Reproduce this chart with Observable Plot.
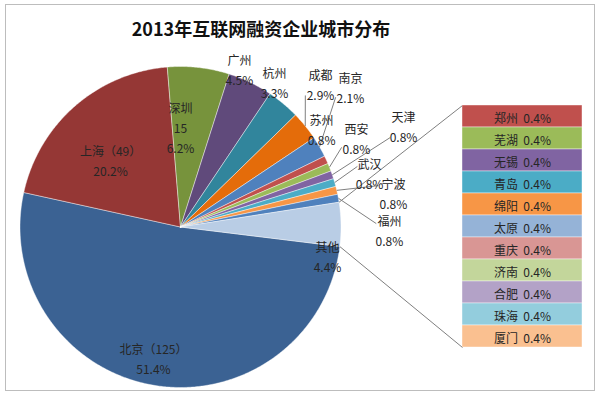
<!DOCTYPE html>
<html><head><meta charset="utf-8">
<script src="https://cdn.jsdelivr.net/npm/d3@7"></script>
<script src="https://cdn.jsdelivr.net/npm/@observablehq/plot@0.6"></script>
<style>
html,body{margin:0;padding:0;background:#fff;}
#wrap{position:relative;width:600px;height:395px;overflow:hidden;font-family:"Noto Sans CJK SC",sans-serif;}
#frame{position:absolute;left:5px;top:4px;width:590px;height:387px;border:1.5px solid #bdbdbd;box-sizing:border-box;}
#title{position:absolute;left:0;width:522px;top:17px;text-align:center;font-weight:bold;font-size:18px;line-height:22px;color:#111;}
#pie,#bar{position:absolute;}
#pie{left:0;top:0;}
</style></head><body>
<div id="wrap"><div id="pie"></div><div id="bar"></div><div id="frame"></div><div id="title"></div></div>
<script>
// ---- data ----
const titleText = "2013年互联网融资企业城市分布";
const pieNames  = ["北京","上海","深圳","广州","杭州","成都","南京","苏州","西安","天津","武汉","宁波","福州","其他"];
const piePct    = [51.4, 20.2, 6.2, 4.5, 3.3, 2.9, 2.1, 0.8, 0.8, 0.8, 0.8, 0.8, 0.8, 4.4];
const pieCounts = [125, 49, 15, null, null, null, null, null, null, null, null, null, null, null];
const barNames  = ["郑州","芜湖","无锡","青岛","绵阳","太原","重庆","济南","合肥","珠海","厦门"];
const barPct    = [0.4, 0.4, 0.4, 0.4, 0.4, 0.4, 0.4, 0.4, 0.4, 0.4, 0.4];

// ---- styles ----
const pieColors = ["#3B6293","#953735","#77933C","#604A7B","#31859C","#E46C0A",
                   "#4F81BD","#C0504D","#9BBB59","#8064A2","#4BACC6","#F79646","#4F81BD","#B9CDE5"];
const barColors = ["#C0504D","#9BBB59","#8064A2","#4BACC6","#F79646","#95B3D7",
                   "#D99694","#C3D69B","#B3A2C7","#93CDDD","#FAC090"];
const FONT = '"Noto Sans CJK SC", sans-serif';

// ---- layout ----
const W = 600, H = 395, CX = 180, CY = 226.5, R = 160.5, START_DEG = 97;
const BAR = {x1: 462, x2: 582, top: 105, bottom: 347};
// label placement in polar form around the pie centre: [angle° clockwise from 12 o'clock, radius / R]
const labelPolar = [[191.7,0.83],[314,0.606],[0,0.626],[20.4,1.054],[32.9,1.079],[44.3,1.249],[50.4,1.374],
                    [55.1,1.072],[63.0,1.230],[65.5,1.527],[73.9,1.226],[80.8,1.344],[90.8,1.302],[101.0,0.933]];
const leaderPolar = [null,null,null,null,null,[43.5,1.13],[50.1,1.26],null,[63.7,1.12],[66.9,1.42],
                     [71.1,1.165],[78.2,1.26],[89.0,1.22],null];

const rad = d => d * Math.PI / 180;
const polar = (a, r) => ({x: CX + r * R * Math.sin(a), y: CY - r * R * Math.cos(a)});

document.getElementById("title").textContent = titleText;

const pieData = pieNames.map((name, i) => ({name, pct: piePct[i], count: pieCounts[i], i}));
const slices = d3.pie().sort(null).value(d => d.pct)
  .startAngle(rad(START_DEG)).endAngle(rad(START_DEG) + 2 * Math.PI)(pieData);

const slicePts = slices.flatMap(s => {
  const n = Math.max(2, Math.ceil((s.endAngle - s.startAngle) / rad(0.5)));
  const arc = d3.range(n + 1).map(k => polar(s.startAngle + (s.endAngle - s.startAngle) * k / n, 1));
  return [{x: CX, y: CY}, ...arc, {x: CX, y: CY}].map(p => ({...p, name: s.data.name}));
});

const labelText = d => {
  const p = d.pct.toFixed(1) + "%";
  if (d.count != null && d.i < 2) return `${d.name}（${d.count}）\n${p}`;
  if (d.count != null) return `${d.name}\n${d.count}\n${p}`;
  return `${d.name}\n${p}`;
};
const labels = slices.map((s, i) => {
  const [a, r] = labelPolar[i];
  return {...polar(rad(a), r), text: labelText(s.data)};
});
const leaders = slices.filter((s, i) => leaderPolar[i]).map(s => {
  const [a, r] = leaderPolar[s.data.i];
  const p1 = polar((s.startAngle + s.endAngle) / 2, 1), p2 = polar(rad(a), r);
  return {x1: p1.x, y1: p1.y, x2: p2.x, y2: p2.y};
});
const other = slices[slices.length - 1];
const oTop = polar(other.startAngle, 1), oBot = polar(other.endAngle, 1);
const connectors = [
  {x1: oTop.x, y1: oTop.y, x2: BAR.x1, y2: BAR.top},
  {x1: oBot.x, y1: oBot.y, x2: BAR.x1, y2: BAR.bottom}
];

const pieSvg = Plot.plot({
  width: W, height: H, margin: 0,
  x: {domain: [0, W], range: [0, W], axis: null},
  y: {domain: [0, H], range: [0, H], axis: null},
  color: {domain: pieNames, range: pieColors},
  style: {fontFamily: FONT, background: "#fff"},
  marks: [
    Plot.line(slicePts, {x: "x", y: "y", z: "name", fill: "name", stroke: "#fff", strokeWidth: 0.6, strokeOpacity: 0.7, curve: "linear"}),
    Plot.link(connectors, {x1: "x1", y1: "y1", x2: "x2", y2: "y2", stroke: "#7f7f7f", strokeWidth: 1}),
    Plot.link(leaders, {x1: "x1", y1: "y1", x2: "x2", y2: "y2", stroke: "#7f7f7f", strokeWidth: 1}),
    Plot.text(labels, {x: "x", y: "y", text: "text", fontSize: 12, lineHeight: 1.67, fill: "#262626", fontFamily: FONT})
  ]
});
document.getElementById("pie").appendChild(pieSvg);

const barData = barNames.map((name, i) => ({name, pct: barPct[i]}));
const barSvg = Plot.plot({
  width: BAR.x2 - BAR.x1, height: BAR.bottom - BAR.top, margin: 0,
  y: {axis: null, reverse: true, domain: [0, d3.sum(barPct)]},
  color: {domain: barNames, range: barColors},
  style: {fontFamily: FONT, background: "transparent"},
  marks: [
    Plot.rectY(barData, Plot.stackY({y: "pct", fill: "name", stroke: "#fff", strokeWidth: 0.6, strokeOpacity: 0.7})),
    Plot.text(barData, Plot.stackY({y: "pct", text: d => `${d.name}  ${d.pct.toFixed(1)}%`, dy: 3, fontSize: 12, fill: "#262626", fontFamily: FONT}))
  ]
});
const barDiv = document.getElementById("bar");
barDiv.style.left = BAR.x1 + "px";
barDiv.style.top = BAR.top + "px";
barDiv.appendChild(barSvg);
</script>
</body></html>
